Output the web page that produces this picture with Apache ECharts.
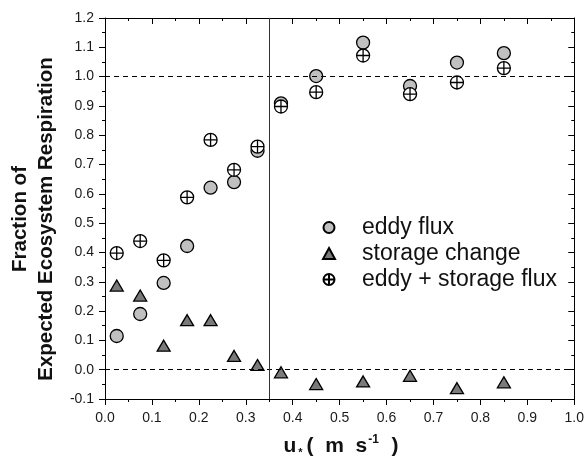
<!DOCTYPE html>
<html>
<head>
<meta charset="utf-8">
<script src="https://cdn.jsdelivr.net/npm/echarts@6/dist/echarts.min.js"></script>
<style>
html,body{margin:0;padding:0;background:#fff;}
#chart{width:587px;height:457px;}
</style>
</head>
<body>
<div id="chart"></div>
<script>
const xValues = [0.025, 0.075, 0.125, 0.175, 0.225, 0.275, 0.325, 0.375, 0.45, 0.55, 0.65, 0.75, 0.85];
const eddyFlux = [0.115, 0.19, 0.296, 0.422, 0.621, 0.64, 0.747, 0.909, 1.002, 1.116, 0.968, 1.048, 1.08];
const storageChange = [0.287, 0.253, 0.082, 0.169, 0.169, 0.047, 0.016, -0.009, -0.049, -0.04, -0.021, -0.063, -0.043];
const eddyStorageFlux = [0.398, 0.439, 0.373, 0.588, 0.784, 0.682, 0.761, 0.898, 0.947, 1.072, 0.94, 0.98, 1.029];
const seriesNames = ['eddy flux', 'storage change', 'eddy + storage flux'];
const refLines = [1.0, 0.0];
const thresholdX = 0.35;

const pair = (ys) => xValues.map((x, i) => [x, ys[i]]);
const crossCircle = 'path://M0,10A10,10 0 1,1 20,10A10,10 0 1,1 0,10Z M10,0L10,20 M0,10L20,10';

const chart = echarts.init(document.getElementById('chart'), null, {renderer: 'canvas'});
const fmt = v => (Math.abs(v) < 1e-9 ? 0 : v).toFixed(1);
const FF = 'Liberation Sans, Arial, sans-serif';
const labelFont = {fontFamily: FF, fontSize: 14, color: '#1a1a1a'};

const option = {
  animation: false,
  backgroundColor: '#fff',
  grid: {left: 105, right: 9, top: 18, bottom: 58},
  legend: {
    orient: 'vertical',
    left: 317,
    top: 211,
    itemWidth: 12,
    itemHeight: 11,
    itemGap: 3,
    symbolKeepAspect: true,
    data: seriesNames,
    textStyle: {fontFamily: FF, fontSize: 23, color: '#111', padding: [0, 0, 0, 22]}
  },
  xAxis: [{
    type: 'value', min: 0, max: 1, interval: 0.1, position: 'bottom',
    axisLine: {show: true, onZero: false, lineStyle: {color: '#000', width: 1}},
    axisTick: {show: true, inside: false, length: 6, lineStyle: {color: '#000'}},
    minorTick: {show: true, splitNumber: 2, length: 3, lineStyle: {color: '#000'}},
    splitLine: {show: false},
    axisLabel: Object.assign({formatter: fmt, margin: 12}, labelFont)
  }, {
    type: 'value', min: 0, max: 1, interval: 0.1, position: 'top',
    axisLine: {show: true, onZero: false, lineStyle: {color: '#000', width: 1}},
    axisTick: {show: true, inside: true, length: 6, lineStyle: {color: '#000'}},
    minorTick: {show: true, splitNumber: 2, length: 3, lineStyle: {color: '#000'}},
    splitLine: {show: false},
    axisLabel: {show: false}
  }],
  yAxis: [{
    type: 'value', min: -0.1, max: 1.2, interval: 0.1, position: 'left',
    axisLine: {show: true, onZero: false, lineStyle: {color: '#000', width: 1}},
    axisTick: {show: true, inside: false, length: 6, lineStyle: {color: '#000'}},
    minorTick: {show: true, splitNumber: 2, length: 3, lineStyle: {color: '#000'}},
    splitLine: {show: false},
    axisLabel: Object.assign({formatter: fmt, margin: 11}, labelFont)
  }, {
    type: 'value', min: -0.1, max: 1.2, interval: 0.1, position: 'right',
    axisLine: {show: true, onZero: false, lineStyle: {color: '#000', width: 1}},
    axisTick: {show: true, inside: true, length: 6, lineStyle: {color: '#000'}},
    minorTick: {show: true, splitNumber: 2, length: 3, lineStyle: {color: '#000'}},
    splitLine: {show: false},
    axisLabel: {show: false}
  }],
  graphic: [{
    type: 'text',
    x: 33, y: 219,
    rotation: Math.PI / 2,
    style: {
      text: 'Fraction of\nExpected Ecosystem Respiration',
      fontFamily: FF,
      fontWeight: 'bold', fontSize: 20.5, lineHeight: 26,
      fill: '#111', align: 'center', verticalAlign: 'middle'
    }
  }, {
    type: 'text',
    x: 341, y: 446,
    style: {
      text: '{a|u}{s|*}{a|(  m  s}{p|-1}{a|  )}',
      fontFamily: FF,
      fontWeight: 'bold', fill: '#111', align: 'center', verticalAlign: 'middle',
      rich: {
        a: {fontSize: 21, fontWeight: 'bold', fontFamily: FF, lineHeight: 24, verticalAlign: 'middle'},
        s: {fontSize: 11, fontWeight: 'bold', fontFamily: FF, lineHeight: 24, verticalAlign: 'bottom', padding: [0, 4, 0, 2]},
        p: {fontSize: 12, fontWeight: 'bold', fontFamily: FF, lineHeight: 24, verticalAlign: 'top', padding: [0, 1, 0, 1]}
      }
    }
  }],
  series: [{
    name: seriesNames[0],
    type: 'scatter',
    data: pair(eddyFlux),
    symbol: 'circle',
    symbolSize: 13,
    itemStyle: {color: '#c0c0c0', borderColor: '#000', borderWidth: 1.3, opacity: 1},
    z: 2,
    markLine: {
      silent: true, symbol: 'none', label: {show: false},
      lineStyle: {color: '#000', type: [5, 4], width: 1},
      data: refLines.map(v => ({yAxis: v})).concat([{xAxis: thresholdX, lineStyle: {type: 'solid', color: '#333', width: 1}}]),
      z: 5
    }
  }, {
    name: seriesNames[1],
    type: 'scatter',
    data: pair(storageChange),
    symbol: 'triangle',
    symbolSize: [13, 11],
    itemStyle: {color: '#7a7a7a', borderColor: '#000', borderWidth: 1.3, opacity: 1},
    z: 3
  }, {
    name: seriesNames[2],
    type: 'scatter',
    data: pair(eddyStorageFlux),
    symbol: crossCircle,
    symbolSize: 13,
    itemStyle: {color: '#fff', borderColor: '#000', borderWidth: 1.3, opacity: 1},
    z: 4
  }]
};
chart.setOption(option);
</script>
</body>
</html>
